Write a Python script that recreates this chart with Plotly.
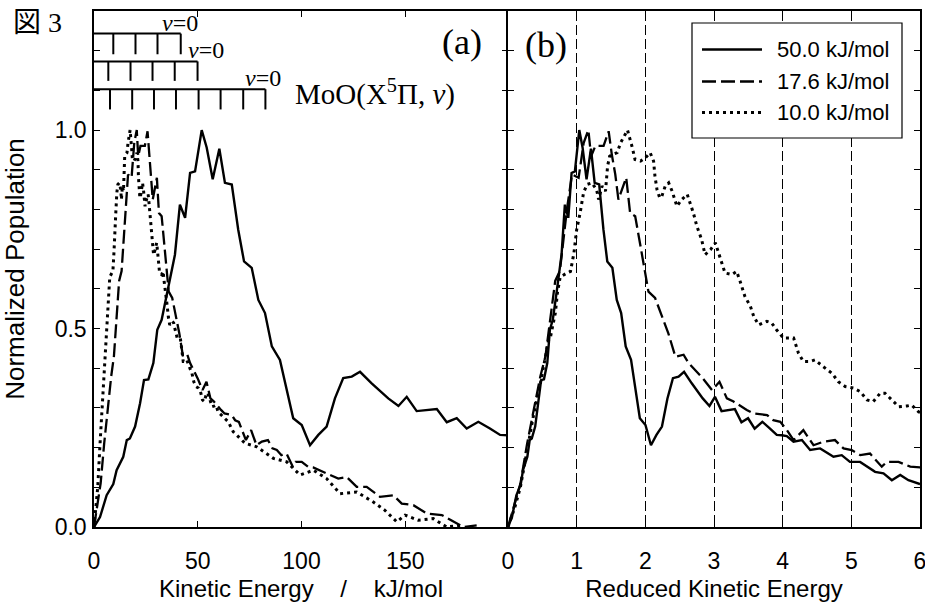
import plotly.graph_objects as go

# ---------------- data ----------------
E_COLL = [50.0, 17.6, 10.0]
SERIES_NAMES = ["50.0 kJ/mol", "17.6 kJ/mol", "10.0 kJ/mol"]

ke_50 = [0, 2.9, 6.1, 9.3, 10.9, 14.1, 15.8, 17.3, 19.8, 22.2, 24.1, 26.2, 28.6, 30.5, 32.6, 35.0,
         39.0, 41.4, 43.9, 46.3, 48.7, 51.9, 54.3, 57.2, 60.4, 63.1, 66.4, 69.5, 72.3, 76.0, 79.2,
         82.4, 85.7, 89.6, 96.0, 100.1, 104.1, 108.1, 112.1, 116.1, 120.1, 124.2, 128.2, 133.8,
         141.8, 146.7, 150.7, 155.5, 165.2, 170.0, 174.8, 179.6, 185.2, 190.8, 195.7, 199.4, 203.0,
         207.9, 214.0, 220.0, 227.3, 237.0, 243.0, 249.0, 256.4, 267.3, 273.4, 279.5, 285.6, 291.6, 300.0]
pop_50 = [0, 0.025, 0.080, 0.108, 0.143, 0.177, 0.219, 0.223, 0.253, 0.312, 0.370, 0.372, 0.413, 0.497,
          0.522, 0.581, 0.686, 0.812, 0.779, 0.892, 0.896, 1.0, 0.956, 0.876, 0.953, 0.867, 0.863, 0.749,
          0.669, 0.653, 0.572, 0.539, 0.455, 0.421, 0.274, 0.257, 0.206, 0.232, 0.253, 0.324, 0.375,
          0.379, 0.391, 0.362, 0.324, 0.305, 0.328, 0.292, 0.297, 0.264, 0.274, 0.248, 0.265, 0.248,
          0.232, 0.231, 0.229, 0.215, 0.219, 0.194, 0.198, 0.177, 0.181, 0.164, 0.164, 0.139, 0.135,
          0.118, 0.131, 0.118, 0.108]

ke_17 = [0, 2.0, 3.2, 4.9, 6.6, 8.3, 9.6, 10.8, 12.1, 13.3, 15.1, 16.4, 18.1, 19.4, 20.6, 21.3, 22.4,
         24.5, 25.8, 26.6, 27.5, 28.3, 30.3, 31.3, 32.6, 33.9, 35.2, 36.0, 37.7, 39.5, 41.1, 42.9,
         45.0, 46.3, 48.4, 49.9, 52.3, 54.2, 56.1, 57.8, 61.2, 62.9, 66.4, 68.0, 69.8, 71.5, 73.2,
         75.7, 78.3, 80.9, 83.8, 86.0, 88.1, 90.3, 92.8, 95.8, 97.1, 100.1, 103.1, 105.6, 112.1,
         117.7, 121.8, 126.6, 131.4, 137.8, 144.2, 148.3, 153.9, 160.3, 167.6, 173.2, 178.0, 184.4]
pop_17 = [0, 0.07, 0.11, 0.21, 0.30, 0.38, 0.43, 0.52, 0.62, 0.645, 0.80, 0.888, 0.880, 0.968, 1.0,
          0.934, 0.960, 0.960, 0.997, 0.939, 0.888, 0.825, 0.880, 0.791, 0.783, 0.711, 0.640, 0.593,
          0.577, 0.530, 0.488, 0.429, 0.434, 0.413, 0.391, 0.375, 0.345, 0.366, 0.324, 0.316, 0.295,
          0.286, 0.282, 0.269, 0.265, 0.244, 0.219, 0.244, 0.206, 0.215, 0.219, 0.198, 0.194, 0.181,
          0.185, 0.152, 0.164, 0.164, 0.152, 0.150, 0.135, 0.122, 0.126, 0.101, 0.101, 0.076, 0.080,
          0.059, 0.055, 0.034, 0.030, 0.013, 0.0, 0.004]

ke_10 = [0, 1.0, 1.8, 2.8, 3.7, 4.7, 5.9, 6.2, 6.9, 7.2, 7.6, 8.6, 9.1, 9.6, 10.0, 10.5, 11.0, 11.5,
         12.2, 12.9, 13.2, 13.7, 14.2, 14.5, 14.8, 15.3, 15.9, 16.4, 17.1, 17.4, 18.1, 18.5, 19.3,
         20.0, 20.7, 21.2, 21.4, 21.7, 22.1, 22.4, 22.9, 23.4, 23.9, 24.6, 25.3, 26.1, 26.5, 27.0,
         27.5, 28.2, 28.7, 29.5, 30.2, 30.7, 31.2, 31.6, 32.6, 33.3, 33.8, 34.5, 35.3, 35.8, 36.5,
         37.7, 38.4, 39.1, 40.1, 41.6, 42.3, 43.0, 44.0, 44.7, 45.9, 47.2, 48.1, 49.1, 50.3, 51.3,
         52.3, 53.2, 54.2, 54.9, 55.9, 56.9, 58.1, 58.8, 59.8, 64.7, 67.1, 72.8, 78.4, 86.4, 92.9,
         99.3, 105.7, 112.1, 118.6, 126.6, 134.6, 140.2, 145.9, 149.9, 156.3, 163.5, 170.0, 176.4]
pop_10 = [0, 0.05, 0.10, 0.20, 0.28, 0.36, 0.47, 0.48, 0.54, 0.59, 0.63, 0.64, 0.644, 0.69, 0.749,
          0.791, 0.842, 0.863, 0.867, 0.850, 0.825, 0.859, 0.846, 0.909, 0.934, 0.939, 0.943, 0.968,
          0.993, 1.0, 0.956, 0.926, 0.922, 0.930, 0.943, 0.922, 0.884, 0.850, 0.829, 0.833, 0.859,
          0.867, 0.846, 0.808, 0.825, 0.838, 0.817, 0.791, 0.758, 0.724, 0.686, 0.699, 0.716, 0.690,
          0.665, 0.640, 0.636, 0.644, 0.619, 0.581, 0.556, 0.530, 0.509, 0.518, 0.514, 0.497, 0.476,
          0.476, 0.438, 0.417, 0.417, 0.421, 0.404, 0.387, 0.366, 0.354, 0.350, 0.341, 0.320, 0.316,
          0.337, 0.337, 0.320, 0.303, 0.305, 0.307, 0.290, 0.265, 0.240, 0.211, 0.202, 0.173, 0.164,
          0.131, 0.143, 0.122, 0.084, 0.088, 0.063, 0.042, 0.013, 0.030, 0.017, 0.021, 0.0, 0.004]

# vibrational level combs for MoO(X5Pi, v); v=0 is the highest kinetic energy
comb_10 = [41.8, 30.6, 20.0, 9.3]
comb_17 = [49.9, 38.9, 28.2, 17.6, 6.9]
comb_50 = [82.6, 71.9, 61.0, 50.4, 39.5, 28.9, 18.4, 7.7]

x_ticks_left = [0, 50, 100, 150]
x_ticks_right = [0, 1, 2, 3, 4, 5, 6]
y_major = [0.0, 0.5, 1.0]
y_major_text = ["0.0", "0.5", "1.0"]
y_minor = [round(0.1 * i, 1) for i in range(14)]

# ---------------- layout geometry / style ----------------
W, H = 925, 602
ML, MR, MT, MB = 94, 5, 11, 75
PW, PH = W - ML - MR, H - MT - MB
SPLIT = 414 / PW

def px_x(px):
    return (px - ML) / PW

def px_y(py):
    return (H - MB - py) / PH

SANS = "Liberation Sans, Arial, Helvetica, sans-serif"
SERIF = "Liberation Serif, Times New Roman, serif"
CJK = "Liberation Serif, Noto Sans CJK JP, serif"

DASHES = ["solid", "14px,5px", "3px,4px"]
WIDTHS = [2.4, 2.3, 3.0]

fig = go.Figure()

data = [(ke_50, pop_50), (ke_17, pop_17), (ke_10, pop_10)]
for (ke, pop), e, name, dash, w in zip(data, E_COLL, SERIES_NAMES, DASHES, WIDTHS):
    fig.add_trace(go.Scatter(x=ke, y=pop, mode="lines", name=name, showlegend=False,
                             line=dict(color="black", width=w, dash=dash),
                             xaxis="x", yaxis="y"))
    fig.add_trace(go.Scatter(x=[k / e for k in ke], y=pop, mode="lines", name=name,
                             showlegend=False,
                             line=dict(color="black", width=w, dash=dash),
                             xaxis="x2", yaxis="y2"))

# combs
comb_levels = [(comb_10, 1.243, 1.191), (comb_17, 1.173, 1.124), (comb_50, 1.103, 1.052)]
v0_shift = [-1, 8, -2]
for (levels, ytop, ybot), xs in zip(comb_levels, v0_shift):
    cx = [0, max(levels), None]
    cy = [ytop, ytop, None]
    for lv in levels:
        cx += [lv, lv, None]
        cy += [ytop, ybot, None]
    fig.add_trace(go.Scatter(x=cx, y=cy, mode="lines", showlegend=False, hoverinfo="skip",
                             line=dict(color="black", width=2), xaxis="x", yaxis="y"))
    fig.add_annotation(x=max(levels), y=ytop, xref="x", yref="y", text="<i>v</i>=0",
                       showarrow=False, xanchor="center", yanchor="bottom", xshift=xs, yshift=-4,
                       font=dict(family=SERIF, size=24, color="black"))

# an empty overlay axis to draw the left-pointing ticks on the shared middle frame line
fig.add_trace(go.Scatter(x=[None], y=[None], mode="lines", showlegend=False, hoverinfo="skip",
                         xaxis="x", yaxis="y3"))

fig.add_annotation(x=px_x(293), y=1.095, xref="paper", yref="y", xanchor="left", yanchor="middle",
                   text="MoO(X<sup>5</sup>Π, <i>v</i>)", showarrow=False,
                   font=dict(family=SERIF, size=29, color="black"))
fig.add_annotation(x=px_x(484), y=px_y(42), xref="paper", yref="paper", xanchor="right",
                   yanchor="middle", text="(a)", showarrow=False,
                   font=dict(family=SERIF, size=36, color="black"))
fig.add_annotation(x=px_x(523), y=px_y(45), xref="paper", yref="paper", xanchor="left",
                   yanchor="middle", text="(b)", showarrow=False,
                   font=dict(family=SERIF, size=36, color="black"))
fig.add_annotation(x=px_x(11), y=px_y(22), xref="paper", yref="paper", xanchor="left",
                   yanchor="middle", text="図 3", showarrow=False,
                   font=dict(family=CJK, size=28, color="black"))

# custom legend
fig.add_shape(type="rect", xref="paper", yref="paper", x0=px_x(692), x1=px_x(902),
              y0=px_y(138), y1=px_y(23), line=dict(color="black", width=1.2),
              fillcolor="white", layer="above")
row_y = [49.5, 81.5, 112.5]
for name, dash, w, ry in zip(SERIES_NAMES, DASHES, WIDTHS, row_y):
    fig.add_shape(type="line", xref="paper", yref="paper", x0=px_x(702), x1=px_x(762),
                  y0=px_y(ry), y1=px_y(ry), line=dict(color="black", width=w, dash=dash),
                  layer="above")
    fig.add_annotation(x=px_x(775), y=px_y(ry), xref="paper", yref="paper", xanchor="left",
                       yanchor="middle", text=name, showarrow=False,
                       font=dict(family=SANS, size=22, color="black"))

tick_common = dict(ticks="inside", ticklen=6, tickwidth=1.2, tickcolor="black", zeroline=False,
                   tickfont=dict(family=SANS, size=23, color="black"))
line_common = dict(showline=True, linecolor="black", linewidth=1.5)
minor_y = dict(tickmode="array", tickvals=y_minor, ticks="inside", ticklen=6, tickwidth=1.2,
               tickcolor="black", showgrid=False)

fig.update_layout(
    width=W, height=H, margin=dict(l=ML, r=MR, t=MT, b=MB, autoexpand=False),
    paper_bgcolor="white", plot_bgcolor="white", showlegend=False,
    xaxis=dict(domain=[0, SPLIT], range=[0, 199.5], tickmode="array", tickvals=x_ticks_left,
               ticktext=[str(v) for v in x_ticks_left], showgrid=False, anchor="y",
               ticklabelstandoff=13, mirror="ticks", automargin=False,
               ticklabeloverflow="allow",
               title=dict(text="Kinetic Energy\u00a0\u00a0\u00a0\u00a0/\u00a0\u00a0\u00a0\u00a0kJ/mol",
                          standoff=8, font=dict(family=SANS, size=24, color="black")),
               **line_common, **tick_common),
    xaxis2=dict(domain=[SPLIT, 1], range=[0, 6], tickmode="array", tickvals=x_ticks_right,
                ticktext=[str(v) for v in x_ticks_right], anchor="y2",
                showgrid=True, gridcolor="black", gridwidth=1, griddash="10px,4px",
                ticklabelstandoff=13, mirror="ticks", automargin=False,
                ticklabeloverflow="allow",
                title=dict(text="Reduced Kinetic Energy", standoff=8,
                           font=dict(family=SANS, size=24, color="black")),
                **line_common, **tick_common),
    yaxis=dict(range=[0, 1.3], tickmode="array", tickvals=y_major, ticktext=y_major_text,
               anchor="x", showgrid=False, minor=minor_y,
               ticklabelstandoff=1, mirror=False, automargin=False,
               title=dict(text="Normalized Population", standoff=30,
                          font=dict(family=SANS, size=26, color="black")),
               **line_common, **tick_common),
    yaxis2=dict(range=[0, 1.3], tickmode="array", tickvals=y_minor, showticklabels=False,
                anchor="x2", showgrid=False, mirror="ticks", **line_common, **tick_common),
    yaxis3=dict(range=[0, 1.3], tickmode="array", tickvals=y_minor, showticklabels=False,
                overlaying="y", side="right", anchor="x", showgrid=False, showline=False,
                **tick_common),
)

fig.write_html("out.html", config={"displayModeBar": False},
               post_script="document.body.style.margin='0px';document.body.style.overflow='hidden';")
